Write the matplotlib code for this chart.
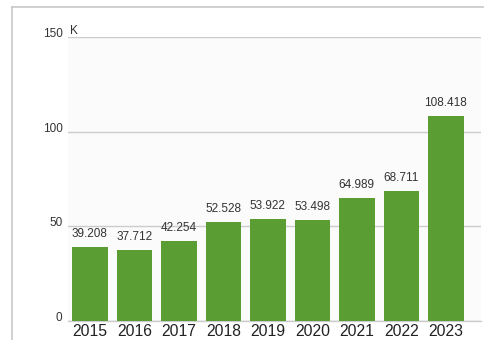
import matplotlib
matplotlib.use("Agg")
import matplotlib.pyplot as plt
from matplotlib.lines import Line2D

plt.rcParams['font.family'] = ['Liberation Sans', 'DejaVu Sans']

years = ["2015", "2016", "2017", "2018", "2019", "2020", "2021", "2022", "2023"]
values = [39.208, 37.712, 42.254, 52.528, 53.922, 53.498, 64.989, 68.711, 108.418]
y_ticks = [0, 50, 100, 150]
unit_label = "K"

W, H = 485, 340
fig = plt.figure(figsize=(W / 100, H / 100), dpi=100)
fig.patch.set_facecolor("white")

ax = fig.add_axes([68 / W, 1 - 321 / H, (481 - 68) / W, (321 - 37) / H])
ax.set_facecolor("#fbfbfb")

x = list(range(len(years)))
ax.bar(x, values, width=0.8, color="#599d33", zorder=3)

for xi, v in zip(x, values):
    ax.annotate(f"{v:.3f}", (xi, v), xytext=(0, 5), textcoords="offset points",
                ha="center", va="bottom", fontsize=8.5, color="#333333", zorder=4)

ax.set_xlim(-0.49, 8.79)
ax.set_ylim(0, 150)

ax.set_yticks(y_ticks)
ax.set_yticklabels([str(t) for t in y_ticks])
ax.yaxis.grid(True, color="#cccccc", linewidth=1.0, zorder=0)
ax.set_axisbelow(True)
ax.tick_params(axis="y", length=0, pad=4, labelsize=8.5, labelcolor="#333333")
for lab in ax.get_yticklabels():
    lab.set_verticalalignment("baseline")

ax.set_xticks(x)
ax.set_xticklabels(years)
ax.tick_params(axis="x", length=0, pad=2, labelsize=11.3, labelcolor="#222222")

for s in ["top", "right", "left"]:
    ax.spines[s].set_visible(False)
ax.spines["bottom"].set_color("#cccccc")
ax.spines["bottom"].set_linewidth(1.0)

ax.text(-0.45, 151.8, unit_label, ha="left", va="baseline",
        fontsize=8.5, color="#333333")

# outer frame: top and left edges
fig.add_artist(Line2D([12 / W, 1.0], [1 - 7 / H, 1 - 7 / H], transform=fig.transFigure,
                      color="#c8c8c8", linewidth=1.2))
fig.add_artist(Line2D([12 / W, 12 / W], [1 - 7 / H, 0.0], transform=fig.transFigure,
                      color="#c8c8c8", linewidth=1.2))

fig.savefig("out.png", dpi=100)
